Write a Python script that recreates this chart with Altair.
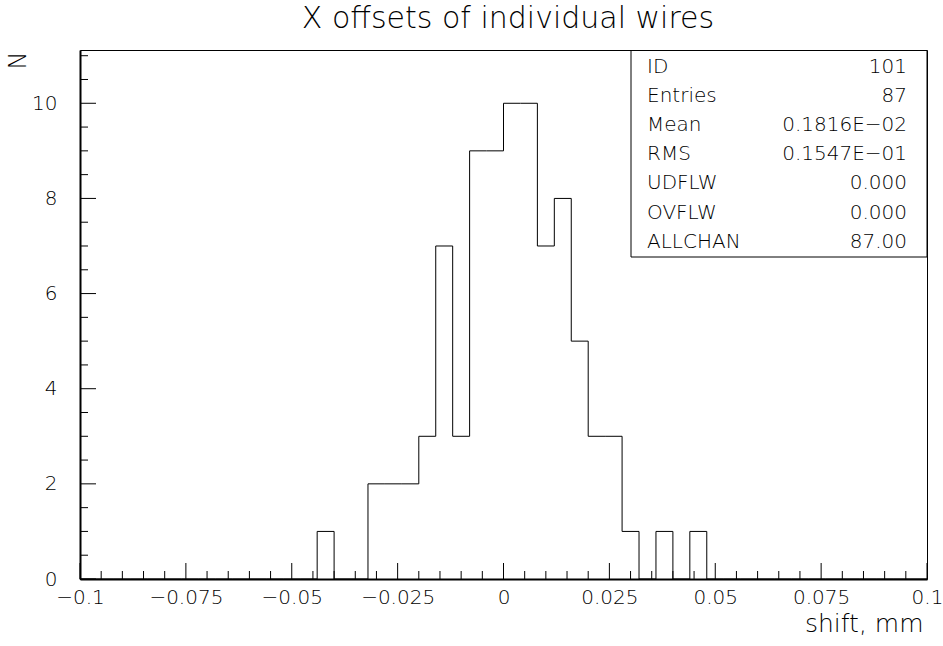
import altair as alt
import pandas as pd

FONT = "DejaVu Sans"
FW = 200

# Histogram: 50 bins of width 0.004 from -0.1 to 0.1
bin_start = -0.1
bin_width = 0.004
counts = [0, 0, 0, 0, 0, 0, 0, 0, 0, 0,
          0, 0, 0, 0, 1, 0, 0, 2, 2, 2,
          3, 7, 3, 9, 9, 10, 10, 7, 8, 5,
          3, 3, 1, 0, 1, 0, 1, 0, 0, 0,
          0, 0, 0, 0, 0, 0, 0, 0, 0, 0]

# Axis ticks
x_major = [-0.1, -0.075, -0.05, -0.025, 0.0, 0.025, 0.05, 0.075, 0.1]
x_minor = [round(-0.1 + 0.005 * i, 3) for i in range(41) if i % 5]
y_major = [0, 2, 4, 6, 8, 10]
y_minor = [0.5 * i for i in range(23) if i % 4]

# Statistics box
stat_labels = ["ID", "Entries", "Mean", "RMS", "UDFLW", "OVFLW", "ALLCHAN"]
stat_values = ["101", "87", "0.1816E\u221202", "0.1547E\u221201", "0.000", "0.000", "87.00"]

W, H = 847, 529
YMAX = 11.12

edges = [round(bin_start + bin_width * i, 4) for i in range(len(counts) + 1)]
hist = pd.DataFrame({"x": edges, "n": counts + [counts[-1]]})

xs = alt.Scale(domain=[-0.1, 0.1], nice=False, zero=False)
ys = alt.Scale(domain=[0, YMAX], nice=False, zero=True)

line = alt.Chart(hist).mark_line(interpolate="step-after", color="black", strokeWidth=1).encode(
    x=alt.X("x:Q", scale=xs, axis=alt.Axis(
        orient="bottom",
        values=x_major, labelExpr="format(datum.value, '~g')", ticks=False, labelPadding=8,
        labelFontSize=20, labelFont=FONT, labelFontWeight=FW, labelColor="black",
        labelFlush=False, labelOverlap=False,
        title="shift, mm", titleFont=FONT, titleFontSize=25, titleFontWeight=FW,
        titleColor="black", titleAnchor="end", titleAlign="right",
        titleX=843, titleY=52, titleBaseline="alphabetic",
        domainColor="black", domainWidth=2, grid=False)),
    y=alt.Y("n:Q", scale=ys, axis=alt.Axis(
        orient="left",
        values=y_major, ticks=False, labelPadding=23,
        labelFontSize=20, labelFont=FONT, labelFontWeight=FW, labelColor="black",
        labelFlush=False, labelOverlap=False,
        title="N", titleFont=FONT, titleFontSize=24, titleFontWeight=FW,
        titleColor="black", titleX=-62, titleY=10, titleAlign="center",
        titleBaseline="middle",
        domainColor="black", domainWidth=2, grid=False)),
)

xmaj = alt.Chart(pd.DataFrame({"v": x_major})).mark_rule(color="black", strokeWidth=1).encode(
    x=alt.X("v:Q", scale=xs, axis=None), y=alt.value(H), y2=alt.value(H - 16))
xmin = alt.Chart(pd.DataFrame({"v": x_minor})).mark_rule(color="black", strokeWidth=1).encode(
    x=alt.X("v:Q", scale=xs, axis=None), y=alt.value(H), y2=alt.value(H - 8))
ymaj = alt.Chart(pd.DataFrame({"v": y_major})).mark_rule(color="black", strokeWidth=1).encode(
    y=alt.Y("v:Q", scale=ys, axis=None), x=alt.value(0), x2=alt.value(16))
ymin = alt.Chart(pd.DataFrame({"v": y_minor})).mark_rule(color="black", strokeWidth=1).encode(
    y=alt.Y("v:Q", scale=ys, axis=None), x=alt.value(0), x2=alt.value(8))

box = alt.Chart(pd.DataFrame({"a": [0]})).mark_rect(fill="white", stroke="black", strokeWidth=1).encode(
    x=alt.value(551), x2=alt.value(W), y=alt.value(0.5), y2=alt.value(207))

stats = pd.DataFrame({"label": stat_labels, "value": stat_values, "row": list(range(len(stat_labels)))})
base_txt = alt.Chart(stats).transform_calculate(
    yy=f"{YMAX} * (1 - (16.5 + 29.2 * datum.row) / {H})")
lab = base_txt.mark_text(align="left", baseline="middle", font=FONT, fontSize=20, fontWeight=FW, color="black").encode(
    x=alt.value(567), y=alt.Y("yy:Q", scale=ys, axis=None), text="label:N")
val = base_txt.mark_text(align="right", baseline="middle", font=FONT, fontSize=20, fontWeight=FW, color="black").encode(
    x=alt.value(827), y=alt.Y("yy:Q", scale=ys, axis=None), text="value:N")

ttl = alt.Chart(pd.DataFrame({"t": ["X offsets of individual wires"]})).mark_text(
    align="center", baseline="alphabetic", font=FONT, fontSize=30, fontWeight=FW, color="black").encode(
    x=alt.value(428), y=alt.value(-22), text="t:N")

chart = alt.layer(line, xmin, xmaj, ymin, ymaj, box, lab, val, ttl).resolve_axis(
    x="independent", y="independent"
).properties(
    width=W, height=H,
    padding={"left": 80, "top": 50, "right": 16, "bottom": 67},
    autosize=alt.AutoSizeParams(type="none"),
).configure(background="white").configure_view(stroke="black", strokeWidth=1)

chart.save("out.html", embed_options={"renderer": "svg", "actions": False})
